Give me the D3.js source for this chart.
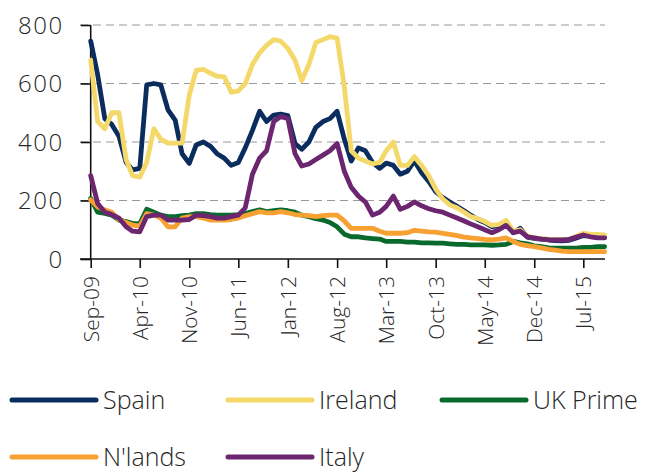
<!DOCTYPE html>
<html><head><meta charset="utf-8">
<script src="https://cdn.jsdelivr.net/npm/d3@7"></script>
<style>
body{margin:0;background:#fff;}
svg text{font-family:"Open Sans",sans-serif;font-weight:300;fill:#262626;}
</style></head>
<body><svg id="c" width="662" height="473"></svg>
<script>
const startMonth = "2009-09", endMonth = "2015-10";
const tickLabels = ["Sep-09","Apr-10","Nov-10","Jun-11","Jan-12","Aug-12","Mar-13","Oct-13","May-14","Dec-14","Jul-15"];
const yTicks = [0,200,400,600,800];
const seriesNames = ["Spain","Ireland","UK Prime","N'lands","Italy"];
const seriesColors = ["#0b2d5e","#f5d86a","#0a6a2e","#f7a132","#6c2670"];
const spain = [745,630,480,460,420,330,305,310,595,600,595,510,475,360,327,390,400,385,360,345,320,330,380,440,505,470,492,495,490,395,375,400,450,470,480,505,410,335,380,370,330,310,328,320,290,300,335,295,265,230,210,195,180,165,150,135,125,110,115,128,90,105,75,70,68,65,63,62,64,72,80,78,76,75];
const ireland = [680,470,445,500,500,340,285,280,330,445,410,396,396,396,560,645,648,635,625,623,570,575,600,665,705,730,750,745,720,680,610,665,740,750,760,755,590,370,345,335,325,330,370,400,320,320,350,320,285,240,205,185,175,160,145,138,128,115,118,132,95,100,78,72,70,68,66,66,68,78,88,85,84,82];
const ukPrime = [207,160,156,150,133,128,122,120,170,160,150,145,145,148,150,155,155,152,150,150,150,152,155,162,168,162,165,168,165,160,150,145,138,133,125,110,85,76,76,72,70,68,60,60,60,58,58,55,55,54,54,52,50,50,48,48,48,47,48,50,60,55,52,45,42,38,37,37,37,37,40,40,42,42];
const nlands = [202,178,168,160,135,125,116,112,155,150,140,110,110,140,145,145,140,133,133,133,135,140,148,155,162,158,158,162,158,152,150,148,145,148,150,150,130,105,105,105,105,95,88,88,88,90,98,95,93,92,88,84,80,75,72,70,67,65,68,72,60,50,46,42,38,33,30,27,25,25,25,25,25,25];
const italy = [285,190,160,152,140,110,95,93,145,150,150,133,133,133,135,150,148,145,140,140,145,150,175,290,345,370,470,487,480,360,318,325,340,355,370,395,300,245,215,195,150,160,180,215,170,180,195,182,172,165,160,150,140,130,120,110,100,90,100,115,90,95,76,72,68,66,65,65,67,75,82,76,72,72];
const seriesValues = [spain, ireland, ukPrime, nlands, italy];

const parse = d3.timeParse("%Y-%m");
const months = d3.timeMonth.range(parse(startMonth), d3.timeMonth.offset(parse(endMonth),1));
const tickParse = d3.timeParse("%b-%y");

const svg = d3.select("#c");
const x = d3.scaleTime().domain([months[0], months[months.length-1]]).range([90.7, 604.6]);
const y = d3.scaleLinear().domain([0,800]).range([259,25]);

// gridlines
svg.append("g").selectAll("line").data(yTicks.filter(d=>d>0)).join("line")
  .attr("x1",80).attr("x2",605).attr("y1",d=>y(d)).attr("y2",d=>y(d))
  .attr("stroke","#9a9a9a").attr("stroke-width",1.2).attr("stroke-dasharray","8,5");

// y axis
const ya = svg.append("g").attr("transform","translate(90.7,0)")
  .call(d3.axisLeft(y).tickValues(yTicks).tickSize(10).tickPadding(17).tickFormat(d3.format("d")));
ya.select(".domain").attr("stroke","#111").attr("stroke-width",1.6).attr("d","M0,"+y(800)+"V"+y(0));
ya.selectAll(".tick line").attr("stroke","#111").attr("stroke-width",1.6);
ya.selectAll(".tick text").attr("font-size",24).style("letter-spacing","1.5px").attr("fill","#262626").attr("dy","0.35em");

// x axis
const tickDates = tickLabels.map(t=>tickParse(t));
const xa = svg.append("g").attr("transform","translate(0,259)")
  .call(d3.axisBottom(x).tickValues(tickDates).tickSize(9).tickFormat((d,i)=>tickLabels[i]));
xa.select(".domain").attr("stroke","#111").attr("stroke-width",1.6).attr("d","M80,0H605");
xa.selectAll(".tick line").attr("stroke","#111").attr("stroke-width",1.6);
xa.selectAll(".tick text").attr("font-size",21).attr("fill","#262626")
  .attr("text-anchor","end").attr("transform","translate(0,17) rotate(-90)").attr("x",0).attr("y",0).attr("dy","0.35em");

// lines
const line = d3.line().x((d,i)=>x(months[i])).y(d=>y(d));
svg.append("g").selectAll("path").data(seriesValues).join("path")
  .attr("d",d=>line(d)).attr("fill","none")
  .attr("stroke",(d,i)=>seriesColors[i]).attr("stroke-width",4.8)
  .attr("stroke-linejoin","round").attr("stroke-linecap","round");

// legend
const legPos = [[12,400],[228,400],[442,400],[12,457],[228,457]];
const lg = svg.append("g").selectAll("g").data(seriesNames).join("g")
  .attr("transform",(d,i)=>`translate(${legPos[i][0]},${legPos[i][1]})`);
lg.append("line").attr("x1",0).attr("x2",84).attr("y1",0).attr("y2",0)
  .attr("stroke",(d,i)=>seriesColors[i]).attr("stroke-width",5).attr("stroke-linecap","round");
lg.append("text").attr("x",91).attr("y",0).attr("dy","0.35em").attr("font-size",25).text(d=>d);
</script></body></html>
